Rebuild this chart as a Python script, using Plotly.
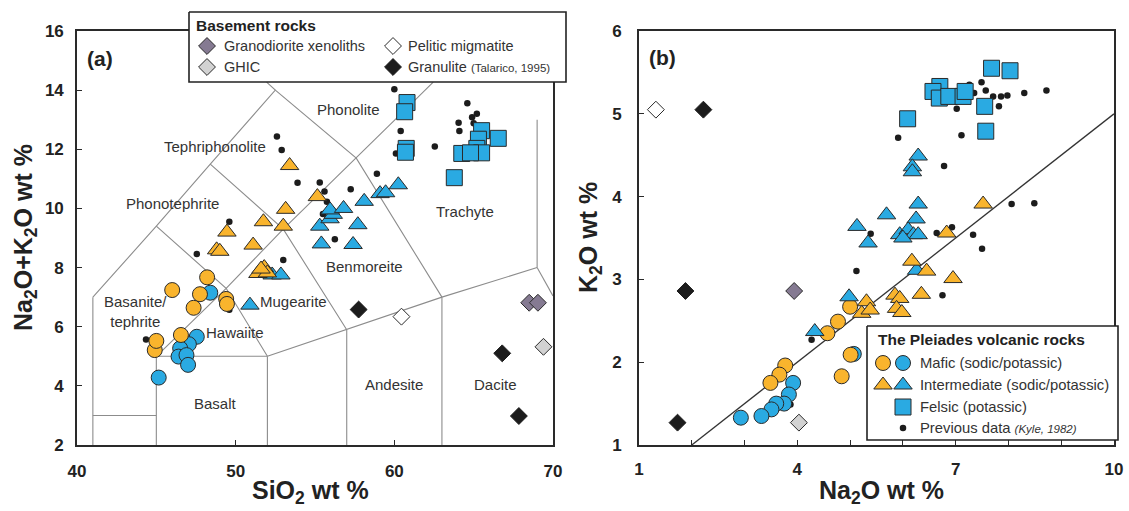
import plotly.graph_objects as go

W, H = 1129, 511
FONT = "Arial, 'Liberation Sans', Helvetica, sans-serif"
ORANGE = "#F9B42D"
BLUE = "#2AAAE2"
EDGE = "#2a2a2a"
PURPLE = "#857A92"
LIGHT = "#D2D2D2"
BLACK = "#1c1c1c"
TAS_GRAY = "#8c8c8c"
TXT = "#333333"

# ---------------- Panel (a): TAS (SiO2 vs Na2O+K2O) ----------------
mafic_sod_a_x = [44.9, 45.0, 46.0, 48.2, 47.75, 47.35, 49.4, 49.45, 46.55]
mafic_sod_a_y = [5.21, 5.52, 7.24, 7.67, 7.10, 6.64, 6.94, 6.77, 5.72]
mafic_pot_a_x = [48.4, 47.55, 47.05, 46.5, 46.4, 46.9, 47.0, 45.15]
mafic_pot_a_y = [7.15, 5.66, 5.41, 5.27, 4.99, 5.04, 4.71, 4.28]
inter_sod_a_x = [53.4, 55.15, 53.15, 51.75, 53.0, 49.45, 51.1, 48.8, 49.0, 51.8, 51.4, 52.0, 51.6]
inter_sod_a_y = [11.45, 10.4, 9.97, 9.55, 9.4, 9.2, 8.76, 8.6, 8.55, 8.0, 7.8, 7.82, 7.95]
inter_pot_a_x = [50.9, 52.3, 52.85, 55.4, 57.4, 55.3, 55.95, 56.15, 55.95, 56.8, 57.7, 58.1, 59.1, 59.45, 60.25]
inter_pot_a_y = [6.73, 7.75, 7.75, 8.8, 8.78, 9.4, 9.65, 9.8, 9.95, 10.0, 9.45, 10.24, 10.5, 10.53, 10.8]
felsic_a_x = [60.8, 60.65, 60.75, 60.7, 65.5, 66.55, 65.3, 65.2, 65.5, 64.25, 64.8, 63.78]
felsic_a_y = [13.58, 13.27, 12.03, 11.9, 12.63, 12.37, 12.34, 12.03, 11.88, 11.86, 11.88, 11.04]
prev_a_x = [47.55, 53.0, 49.6, 44.35, 52.6, 52.9, 53.9, 49.6, 60.0, 55.3, 55.6, 55.75, 55.5,
            57.25, 58.9, 60.4, 60.1, 62.55, 64.6, 64.9, 65.2, 64.05, 64.1, 65.0, 56.25]
prev_a_y = [8.46, 8.26, 6.57, 5.57, 12.43, 11.98, 10.87, 9.55, 14.03, 10.88, 10.57, 10.23, 9.81,
            10.65, 11.17, 12.62, 11.86, 12.09, 13.56, 13.08, 13.2, 12.9, 12.62, 12.88, 8.96]
grano_a_x = [68.5, 69.05]
grano_a_y = [6.81, 6.81]
ghic_a_x = [69.4]
ghic_a_y = [5.32]
pelitic_a_x = [60.45]
pelitic_a_y = [6.34]
granulite_a_x = [57.75, 66.8, 67.85]
granulite_a_y = [6.58, 5.1, 2.98]

# TAS field boundaries (Le Bas et al., 1986), clipped to the plotted window
tas_lines = [
    [(41, 2), (41, 7)],
    [(41, 3), (45, 3)],
    [(45, 2), (45, 5)],
    [(45, 5), (52, 5)],
    [(52, 2), (52, 5)],
    [(52, 5), (57, 5.9), (63, 7), (69, 8)],
    [(57, 2), (57, 5.9)],
    [(63, 2), (63, 7)],
    [(69, 8), (70, 7.04)],
    [(69, 8), (69, 13)],
    [(41, 7), (45, 9.4), (48.4, 11.5), (52.5, 14), (51.95, 14.27)],
    [(45, 5), (49.4, 7.3), (53, 9.3), (57.6, 11.7), (61, 13.5), (62.45, 14.27)],
    [(45, 9.4), (49.4, 7.3), (52, 5)],
    [(48.4, 11.5), (53, 9.3), (57, 5.9)],
    [(52.5, 14), (57.6, 11.7), (63, 7)],
]
tas_names = ["Phonolite", "Tephriphonolite", "Phonotephrite", "Basanite/<br>tephrite", "Hawaiite",
             "Mugearite", "Basalt", "Benmoreite", "Andesite", "Dacite", "Trachyte"]
tas_name_x = [57.08, 48.7, 46.05, 43.7, 49.96, 53.65, 48.7, 58.15, 59.97, 66.4, 64.45]
tas_name_y = [13.33, 12.11, 10.15, 6.5, 5.79, 6.84, 3.42, 8.05, 4.06, 4.06, 9.88]

# ---------------- Panel (b): Na2O vs K2O ----------------
mafic_sod_b_x = [3.77, 3.66, 3.49, 4.57, 4.77, 5.0, 5.01, 4.84]
mafic_sod_b_y = [1.96, 1.85, 1.75, 2.35, 2.49, 2.67, 2.09, 1.83]
mafic_pot_b_x = [3.92, 3.84, 3.75, 3.6, 3.51, 3.32, 2.93, 5.07]
mafic_pot_b_y = [1.75, 1.61, 1.5, 1.5, 1.43, 1.35, 1.33, 2.1]
inter_sod_b_x = [5.31, 5.22, 5.38, 5.85, 5.94, 5.88, 5.98, 6.17, 6.45, 6.95, 6.35, 7.52, 6.83]
inter_sod_b_y = [2.73, 2.59, 2.63, 2.81, 2.77, 2.65, 2.6, 3.22, 3.1, 3.01, 2.82, 3.91, 3.56]
inter_pot_b_x = [6.29, 6.18, 6.18, 6.29, 6.25, 5.69, 5.13, 5.34, 5.94, 6.1, 6.2, 6.29, 6.0, 6.26, 4.33, 4.98]
inter_pot_b_y = [4.49, 4.36, 4.3, 3.91, 3.73, 3.78, 3.64, 3.44, 3.54, 3.6, 3.54, 3.54, 3.5, 3.11, 2.37, 2.79]
felsic_b_x = [7.68, 8.03, 6.7, 6.57, 6.69, 6.87, 7.14, 7.18, 7.55, 6.09, 7.57]
felsic_b_y = [5.55, 5.52, 5.33, 5.27, 5.19, 5.21, 5.21, 5.27, 5.09, 4.94, 4.79]
prev_b_x = [7.26, 7.49, 7.57, 7.35, 7.71, 7.86, 7.98, 8.3, 8.72, 7.82, 7.02, 5.91, 7.11, 6.78,
            5.39, 6.64, 6.93, 7.33, 8.06, 8.49, 7.5, 5.12, 4.27, 3.87, 6.75]
prev_b_y = [5.35, 5.38, 5.28, 5.25, 5.21, 5.21, 5.22, 5.25, 5.28, 5.09, 5.06, 4.71, 4.74, 4.37,
            3.55, 3.56, 3.63, 3.54, 3.91, 3.92, 3.37, 3.1, 2.27, 1.49, 2.81]
grano_b_x = [3.94]
grano_b_y = [2.86]
ghic_b_x = [4.03]
ghic_b_y = [1.27]
pelitic_b_x = [1.32]
pelitic_b_y = [5.05]
granulite_b_x = [2.22, 1.88, 1.73]
granulite_b_y = [5.05, 2.86, 1.27]
divide_x = [2, 10]
divide_y = [1, 5]

# ---------------- layout geometry (pixels) ----------------
A_BOX = (77, 553, 31, 445)
B_BOX = (639, 1114, 31, 445)


def xdom(b):
    return [b[0] / W, b[1] / W]


def ydom(b):
    return [1 - b[3] / H, 1 - b[2] / H]


fig = go.Figure()


def mk(x, y, ax, symbol, size, color, edge=EDGE, lw=1):
    xa, ya = ax
    fig.add_trace(go.Scatter(x=x, y=y, xaxis=xa, yaxis=ya, mode="markers", showlegend=False,
                             hoverinfo="skip",
                             marker=dict(symbol=symbol, size=size, color=color,
                                         line=dict(color=edge, width=lw))))


# TAS lines
lx, ly = [], []
for seg in tas_lines:
    for px, py in seg:
        lx.append(px)
        ly.append(py)
    lx.append(None)
    ly.append(None)
fig.add_trace(go.Scatter(x=lx, y=ly, xaxis="x", yaxis="y", mode="lines", showlegend=False,
                         hoverinfo="skip", line=dict(color=TAS_GRAY, width=1.1)))

A = ("x", "y")
B = ("x2", "y2")
for ax, d in [(A, dict(pv=(prev_a_x, prev_a_y), mp=(mafic_pot_a_x, mafic_pot_a_y), ms=(mafic_sod_a_x, mafic_sod_a_y),
                       ip=(inter_pot_a_x, inter_pot_a_y), isd=(inter_sod_a_x, inter_sod_a_y), fe=(felsic_a_x, felsic_a_y),
                       gr=(grano_a_x, grano_a_y), gh=(ghic_a_x, ghic_a_y), pe=(pelitic_a_x, pelitic_a_y),
                       gu=(granulite_a_x, granulite_a_y))),
              (B, dict(pv=(prev_b_x, prev_b_y), mp=(mafic_pot_b_x, mafic_pot_b_y), ms=(mafic_sod_b_x, mafic_sod_b_y),
                       ip=(inter_pot_b_x, inter_pot_b_y), isd=(inter_sod_b_x, inter_sod_b_y), fe=(felsic_b_x, felsic_b_y),
                       gr=(grano_b_x, grano_b_y), gh=(ghic_b_x, ghic_b_y), pe=(pelitic_b_x, pelitic_b_y),
                       gu=(granulite_b_x, granulite_b_y)))]:
    if ax == B:
        fig.add_trace(go.Scatter(x=divide_x, y=divide_y, xaxis="x2", yaxis="y2", mode="lines",
                                 showlegend=False, hoverinfo="skip", line=dict(color="#333333", width=1.3)))
    mk(*d["pv"], ax, "circle", 6.5, BLACK, edge=BLACK, lw=0)
    mk(*d["mp"], ax, "circle", 15, BLUE)
    mk(*d["ms"], ax, "circle", 15, ORANGE)
    mk(*d["ip"], ax, "triangle-up", 16, BLUE)
    mk(*d["isd"], ax, "triangle-up", 16, ORANGE)
    mk(*d["fe"], ax, "square", 16, BLUE)
    mk(*d["gr"], ax, "diamond", 13, PURPLE)
    mk(*d["gh"], ax, "diamond", 13, LIGHT)
    mk(*d["pe"], ax, "diamond", 13, "white")
    mk(*d["gu"], ax, "diamond", 13, BLACK, edge=BLACK)

# ---------------- legends (drawn in a full-page pixel overlay) ----------------
O = ("x3", "y3")
LEG_A = (189, 566, 12, 82)
LEG_B = (867, 1118, 326, 440)
for (l, r, t, b) in [LEG_A, LEG_B]:
    fig.add_trace(go.Scatter(x=[l, r, r, l, l], y=[t, t, b, b, t], xaxis="x3", yaxis="y3", mode="lines",
                             fill="toself", fillcolor="white", showlegend=False, hoverinfo="skip",
                             line=dict(color="#222222", width=1.6)))

la_col1, la_col2 = LEG_A[0] + 18, LEG_A[0] + 204
la_row1, la_row2 = LEG_A[2] + 34, LEG_A[2] + 55
mk([la_col1], [la_row1], O, "diamond", 13, PURPLE)
mk([la_col1], [la_row2], O, "diamond", 13, LIGHT)
mk([la_col2], [la_row1], O, "diamond", 13, "white")
mk([la_col2], [la_row2], O, "diamond", 13, BLACK, edge=BLACK)

lb_c1, lb_c2 = LEG_B[0] + 16, LEG_B[0] + 36
lb_rows = [LEG_B[2] + 37, LEG_B[2] + 59, LEG_B[2] + 81, LEG_B[2] + 102]
mk([lb_c1], [lb_rows[0]], O, "circle", 15, ORANGE)
mk([lb_c2], [lb_rows[0]], O, "circle", 15, BLUE)
mk([lb_c1], [lb_rows[1]], O, "triangle-up", 16, ORANGE)
mk([lb_c2], [lb_rows[1]], O, "triangle-up", 16, BLUE)
mk([lb_c2], [lb_rows[2]], O, "square", 16, BLUE)
mk([lb_c2], [lb_rows[3]], O, "circle", 6.5, BLACK, edge=BLACK, lw=0)

ann = []


def txt(x, y, s, size=14, xref="x3", yref="y3", xanchor="left", bold=False, color=TXT, angle=0, yanchor="middle"):
    ann.append(dict(x=x, y=y, xref=xref, yref=yref, text=s, showarrow=False, xanchor=xanchor,
                    yanchor=yanchor, textangle=angle,
                    font=dict(family=FONT, size=size, color=color, weight="bold" if bold else "normal")))


txt(LEG_A[0] + 5, LEG_A[2] + 13, "Basement rocks", 15.5, bold=True, color="#222222")
txt(la_col1 + 15, la_row1, "Granodiorite xenoliths", 14.5)
txt(la_col1 + 15, la_row2, "GHIC", 14.5)
txt(la_col2 + 13, la_row1, "Pelitic migmatite", 14.5)
txt(la_col2 + 13, la_row2, "Granulite <span style='font-size:11.5px'>(Talarico, 1995)</span>", 14.5)

txt(LEG_B[0] + 9, LEG_B[2] + 13, "The Pleiades volcanic rocks", 15.5, bold=True, color="#222222")
txt(lb_c2 + 15, lb_rows[0], "Mafic (sodic/potassic)", 14.8)
txt(lb_c2 + 15, lb_rows[1], "Intermediate (sodic/potassic)", 14.8)
txt(lb_c2 + 15, lb_rows[2], "Felsic (potassic)", 14.8)
txt(lb_c2 + 15, lb_rows[3], "Previous data <i><span style='font-size:11.5px'>(Kyle, 1982)</span></i>", 14.8)

# panel letters
txt(85, 58, "(a)", 21, bold=True, color="#222222")
txt(647, 57, "(b)", 21, bold=True, color="#222222")

# axis titles
txt(25, 238, "Na<sub>2</sub>O+K<sub>2</sub>O wt %", 25, xanchor="center", bold=True, color="#222222", angle=-90)
txt(310, 492, "SiO<sub>2</sub> wt %", 25, xanchor="center", bold=True, color="#222222")
txt(590, 238, "K<sub>2</sub>O wt %", 25, xanchor="center", bold=True, color="#222222", angle=-90)
txt(881, 492, "Na<sub>2</sub>O wt %", 25, xanchor="center", bold=True, color="#222222")

# TAS field names
for n, x, y in zip(tas_names, tas_name_x, tas_name_y):
    txt(x, y, n, 15, xref="x", yref="y", xanchor="center", color=TXT)

tickfont = dict(family=FONT, size=17, color="#222222", weight="bold")
axcommon = dict(showgrid=False, zeroline=False, showline=True, linecolor="#2a2a2a", linewidth=1.6,
                mirror=True, ticks="inside", ticklen=5, tickcolor="#2a2a2a", tickwidth=1,
                tickfont=tickfont, automargin=False, fixedrange=True)

fig.update_layout(
    width=W, height=H, margin=dict(l=0, r=0, t=0, b=0),
    paper_bgcolor="white", plot_bgcolor="rgba(0,0,0,0)",
    template="none", showlegend=False, annotations=ann,
    xaxis=dict(domain=xdom(A_BOX), range=[40, 70], dtick=10, tick0=40, anchor="y",
               ticklabelstandoff=10, **axcommon),
    yaxis=dict(domain=ydom(A_BOX), range=[2, 16], dtick=2, tick0=2, anchor="x",
               ticklabelstandoff=8, **axcommon),
    xaxis2=dict(domain=xdom(B_BOX), range=[1, 10], dtick=3, tick0=1, anchor="y2",
                ticklabelstandoff=8,
                minor=dict(dtick=1, tick0=1, ticks="inside", ticklen=5, tickcolor="#2a2a2a"),
                **axcommon),
    yaxis2=dict(domain=ydom(B_BOX), range=[1, 6], dtick=1, tick0=1, anchor="x2",
                ticklabelstandoff=12, **axcommon),
    xaxis3=dict(domain=[0, 1], range=[0, W], visible=False, anchor="y3", fixedrange=True),
    yaxis3=dict(domain=[0, 1], range=[H, 0], visible=False, anchor="x3", fixedrange=True),
)

fig.write_html("out.html")
